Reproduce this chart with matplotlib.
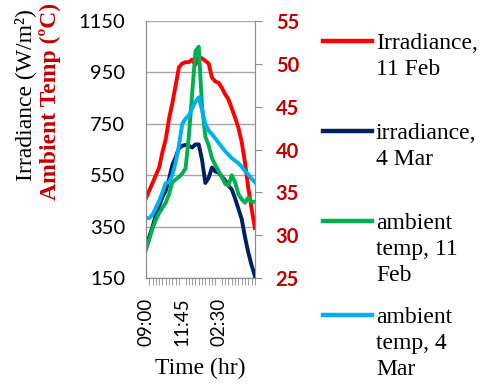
import numpy as np
import matplotlib.pyplot as plt
from matplotlib.lines import Line2D

# 15-minute readings starting 09:00
times = ['09:00', '09:15', '09:30', '09:45', '10:00', '10:15', '10:30', '10:45',
         '11:00', '11:15', '11:30', '11:45', '12:00', '12:15', '12:30', '12:45',
         '01:00', '01:15', '01:30', '01:45', '02:00', '02:15', '02:30', '02:45',
         '03:00', '03:15', '03:30', '03:45', '04:00', '04:15', '04:30', '04:45',
         '05:00', '05:15']
label_idx = [0, 11, 22]

irr_11feb = [460, 490, 520, 550, 580, 640, 690, 770, 830, 900, 970, 985, 990, 990,
             1000, 980, 1010, 1005, 995, 985, 930, 915, 910, 890, 865, 845, 810, 775,
             735, 680, 600, 500, 420, 345]
irr_4mar = [268, 310, 350, 395, 430, 465, 490, 535, 590, 620, 655, 665, 668, 665,
            658, 670, 670, 610, 520, 540, 580, 565, 560, 545, 530, 510, 495, 460,
            420, 380, 310, 250, 200, 158]
temp_11feb = [28.3, 29.5, 30.8, 31.8, 32.6, 33.2, 33.8, 34.8, 36.2, 36.5, 36.8, 37.2,
              37.8, 41.5, 46.5, 51.5, 52.0, 45.0, 41.5, 40.5, 39.0, 38.2, 37.5, 36.8,
              36.0, 35.8, 37.0, 36.2, 34.8, 34.2, 33.8, 34.4, 33.9, 33.9]
temp_4mar = [32.0, 32.0, 32.4, 33.2, 34.0, 35.0, 36.1, 36.2, 37.0, 38.5, 40.5, 43.0,
             43.6, 44.0, 44.8, 45.6, 46.1, 44.6, 43.0, 42.2, 41.8, 41.3, 40.8, 40.3,
             39.8, 39.4, 39.0, 38.7, 38.4, 38.0, 37.5, 37.1, 36.6, 36.2]

names = ['Irradiance,\n11 Feb', 'irradiance,\n4 Mar', 'ambient\ntemp, 11\nFeb', 'ambient\ntemp, 4\nMar']
colors = ['#FF0000', '#002060', '#00B050', '#00B0F0']

serif = 'Liberation Serif'
sans = 'Lato'
grey = '#8C8C8C'
dark_red = '#C00000'

fig = plt.figure(figsize=(4.8, 3.9), dpi=100)
ax = fig.add_axes([0.304, 0.287, 0.227, 0.659])
ax2 = ax.twinx()

x = np.arange(len(times))
lw = 2.8
ax.plot(x, irr_11feb, color=colors[0], lw=lw, zorder=3)
ax.plot(x, irr_4mar, color=colors[1], lw=lw, zorder=3)
ax2.plot(x, temp_11feb, color=colors[2], lw=lw)
ax2.plot(x, temp_4mar, color=colors[3], lw=lw)

ax.set_xlim(0, len(times) - 1)
ax.set_ylim(150, 1150)
ax.set_yticks(np.arange(150, 1151, 200))
ax.grid(axis='y', color='#A6A6A6', lw=1.0)
ax.set_axisbelow(True)
ax2.set_ylim(25, 55)
ax2.set_yticks(np.arange(25, 56, 5))

ax.set_xticks([x[i] for i in label_idx])
ax.set_xticklabels([times[i] for i in label_idx], rotation=90, fontsize=13.5, family=sans)
ax.set_xticks(x, minor=True)
ax.tick_params(axis='x', which='major', length=0, pad=14)
ax.tick_params(axis='x', which='minor', length=5, color=grey, direction='out')
ax.tick_params(axis='y', length=0, pad=15)
for lab in ax.get_yticklabels():
    lab.set_family(sans)
    lab.set_fontsize(14.5)
ax2.tick_params(axis='y', length=5, color=grey, labelcolor=dark_red, pad=10)
for lab in ax2.get_yticklabels():
    lab.set_family(sans)
    lab.set_fontsize(14.5)
    lab.set_fontweight('bold')

for a in (ax, ax2):
    for s in a.spines.values():
        s.set_color(grey)
    a.spines['top'].set_visible(False)

fig.text(200 / 480, 1 - 368 / 390, 'Time (hr)', ha='center', va='center',
         family=serif, fontsize=17)
fig.text(25 / 480, 1 - 95 / 390, 'Irradiance (W/m²)', rotation=90, ha='center', va='center',
         family=serif, fontsize=17)
fig.text(50 / 480, 1 - 101 / 390, 'Ambient Temp (ºC)', rotation=90, ha='center', va='center',
         family=serif, fontsize=17, fontweight='bold', color=dark_red)

# legend: handle sits level with the first line of each label
entry_y = [41, 131, 221, 315]
for name, c, yp in zip(names, colors, entry_y):
    yf = 1 - yp / 390
    fig.add_artist(Line2D([323 / 480, 372 / 480], [yf, yf], color=c, lw=3.2,
                          transform=fig.transFigure))
    fig.text(376 / 480, 1 - (yp - 8) / 390, name, ha='left', va='top',
             family=serif, fontsize=17, linespacing=1.3)

fig.savefig('out.png', dpi=100)
